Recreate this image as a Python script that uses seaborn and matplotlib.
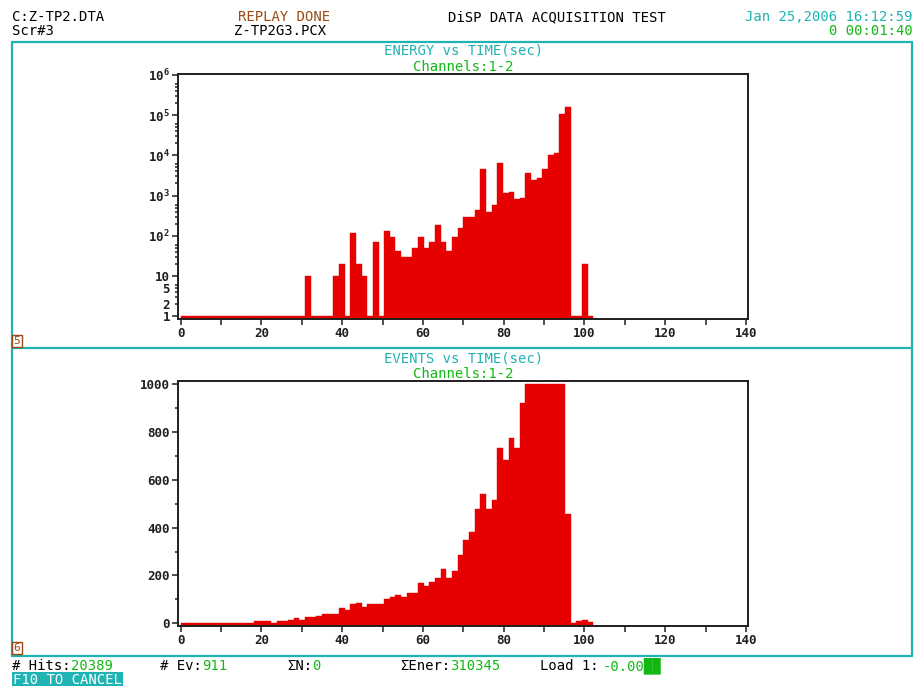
import numpy as np
import pandas as pd
import matplotlib
matplotlib.use("Agg")
import matplotlib.pyplot as plt
from matplotlib.lines import Line2D
from matplotlib.ticker import FixedLocator, FixedFormatter, FuncFormatter, MultipleLocator
import seaborn as sns

# ---- histogram data: 1.4 s bins starting at t = 0 ----
bin_width = 1.4
energy = [1] * 22 + [10, 1, 1, 1, 1, 10, 20, 1, 120, 20, 10, 1, 72, 1, 130, 91, 41, 30, 30,
                     51, 91, 51, 72, 190, 72, 41, 94, 153, 288, 288, 431, 4570, 398, 596, 6460,
                     1150, 1240, 841, 891, 3550, 2430, 2760, 4570, 10000, 11500, 104000, 162000,
                     1, 1, 20, 1]
events = [3] * 13 + [9, 9, 9, 3, 10, 10, 15, 21, 14, 26, 26, 32, 39, 39, 39, 65, 55, 79, 84, 68,
                     79, 79, 79, 101, 110, 119, 112, 126, 126, 168, 155, 172, 191, 226, 191, 220,
                     285, 348, 380, 479, 540, 480, 516, 733, 681, 775, 733, 922,
                     1000, 1000, 1000, 1000, 1000, 1000, 1000, 456, 3, 8, 14, 4]

x_ticks = [0, 20, 40, 60, 80, 100, 120, 140]
log_ticks = [1, 10, 1e2, 1e3, 1e4, 1e5, 1e6]
log_labels = ["1", "10", r"$\mathbf{10^{2}}$", r"$\mathbf{10^{3}}$",
              r"$\mathbf{10^{4}}$", r"$\mathbf{10^{5}}$", r"$\mathbf{10^{6}}$"]
log_minor_labelled = {2: "2", 5: "5"}
lin_ticks = [0, 200, 400, 600, 800, 1000]

header_left = ["C:Z-TP2.DTA", "Scr#3"]
header_mid = ["REPLAY DONE", "Z-TP2G3.PCX"]
header_title = "DiSP DATA ACQUISITION TEST"
header_time = ["Jan 25,2006 16:12:59", "0 00:01:40"]
status = [("# Hits:", "20389", 12, 71), ("# Ev:", "911", 160, 202), ("\u03a3N:", "0", 287, 312),
          ("\u03a3Ener:", "310345", 400, 450), ("Load 1:", "-0.00\u2588\u2588", 540, 603)]

RED = "#e60000"
TEAL = "#1fb3b3"
GREEN = "#12b812"
BROWN = "#9a4a12"
INK = "#1e1e1e"
MONO = "DejaVu Sans Mono"

sns.set_theme(style="white")
plt.rcParams["font.family"] = [MONO]
plt.rcParams["font.weight"] = "bold"
plt.rcParams["mathtext.fontset"] = "custom"
plt.rcParams["mathtext.bf"] = "DejaVu Sans Mono:bold"
plt.rcParams["mathtext.rm"] = "DejaVu Sans Mono"

W, H = 920, 686
fig = plt.figure(figsize=(W / 100, H / 100), dpi=100)
fig.patch.set_facecolor("white")


def fx(x):
    return x / W


def fy(y):
    return 1 - y / H


def put(x, y, s, color="black", ha="left", **kw):
    kw.setdefault("fontsize", 10)
    return fig.text(fx(x), fy(y), s, color=color, ha=ha, va="center",
                    fontweight="normal", **kw)


edges = [round(i * bin_width, 6) for i in range(len(energy) + 1)]
centers = [e + bin_width / 2 for e in edges[:-1]]
df = pd.DataFrame({"t": centers, "energy": energy, "events": events})

ax1 = fig.add_axes([fx(178.3), fy(319), fx(748.3) - fx(178.3), fy(74) - fy(319)])
ax2 = fig.add_axes([fx(178.3), fy(625.7), fx(748.3) - fx(178.3), fy(381.3) - fy(625.7)])

sns.histplot(data=df, x="t", weights="energy", bins=edges, ax=ax1, color=RED, alpha=1,
             edgecolor=RED, linewidth=0.3, element="bars")
ax1.set_yscale("log")
ax1.set_ylim(0.86, 10 ** 6.02)

sns.histplot(data=df, x="t", weights="events", bins=edges, ax=ax2, color=RED, alpha=1,
             edgecolor=RED, linewidth=0.3, element="bars")
y_floor = -10
ax2.set_ylim(y_floor, 1012)
# let each bar rise from the floor of the plot area
for p in ax2.patches:
    h = p.get_height()
    p.set_y(y_floor)
    p.set_height(h - y_floor)

for ax in (ax1, ax2):
    ax.set_xlim(-0.6, 140.6)
    ax.set_xlabel("")
    ax.set_ylabel("")
    ax.set_facecolor("white")
    ax.xaxis.set_major_locator(FixedLocator(x_ticks))
    ax.xaxis.set_major_formatter(FixedFormatter([str(t) for t in x_ticks]))
    ax.xaxis.set_minor_locator(FixedLocator([10, 30, 50, 70, 90, 110, 130]))
    for s in ax.spines.values():
        s.set_color(INK)
        s.set_linewidth(1.4)
    ax.tick_params(which="both", direction="out", width=1.1, color=INK, labelsize=9,
                   labelcolor="#202020", bottom=True, left=True, top=False, right=False,
                   pad=1.5)
    ax.tick_params(axis="x", which="both", length=4.5)
    ax.tick_params(axis="y", which="major", length=4.5)
    ax.tick_params(axis="y", which="minor", length=2.5, pad=3.5)
    ax.grid(False)

ax1.yaxis.set_major_locator(FixedLocator(log_ticks))
ax1.yaxis.set_major_formatter(FixedFormatter(log_labels))
minor = [m * 10 ** d for d in range(0, 6) for m in range(2, 7)]
ax1.yaxis.set_minor_locator(FixedLocator(minor))
ax1.yaxis.set_minor_formatter(FuncFormatter(lambda v, pos: log_minor_labelled.get(int(round(v)), "")))

ax2.yaxis.set_major_locator(FixedLocator(lin_ticks))
ax2.yaxis.set_major_formatter(FixedFormatter([str(t) for t in lin_ticks]))
ax2.yaxis.set_minor_locator(MultipleLocator(100))

# ---- panel titles ----
cx = (178.3 + 748.3) / 2
for title, ty in (("ENERGY vs TIME(sec)", 51), ("EVENTS vs TIME(sec)", 358)):
    put(cx, ty, title, color=TEAL, ha="center")
    put(cx, ty + 16, "Channels:1-2", color=GREEN, ha="center")

# ---- screen frame ----
frame_kw = dict(color=TEAL, linewidth=1.6, transform=fig.transFigure)
for y in (42, 348, 656):
    fig.add_artist(Line2D([fx(12), fx(912)], [fy(y), fy(y)], **frame_kw))
for x in (12, 912):
    fig.add_artist(Line2D([fx(x), fx(x)], [fy(42), fy(656)], **frame_kw))

for num, ny in (("5", 341), ("6", 648)):
    put(17, ny, num, color=BROWN, ha="center", fontsize=8,
        bbox=dict(boxstyle="square,pad=0.12", facecolor="white", edgecolor=BROWN,
                  linewidth=1.0))

# ---- header ----
put(12, 17, header_left[0])
put(12, 31, header_left[1])
put(284, 17, header_mid[0], color=BROWN, ha="center")
put(280, 31, header_mid[1], ha="center")
put(557, 17, header_title, ha="center")
put(913, 17, header_time[0], color=TEAL, ha="right")
put(913, 31, header_time[1], color=GREEN, ha="right")

# ---- status line ----
for label, value, x0, x1 in status:
    put(x0, 666, label)
    put(x1, 666, value, color=GREEN)

put(13, 680, "F10 TO CANCEL", color="white",
    bbox=dict(boxstyle="square,pad=0.08", facecolor=TEAL, edgecolor="none"))

fig.savefig("out.png", dpi=100, facecolor="white")
